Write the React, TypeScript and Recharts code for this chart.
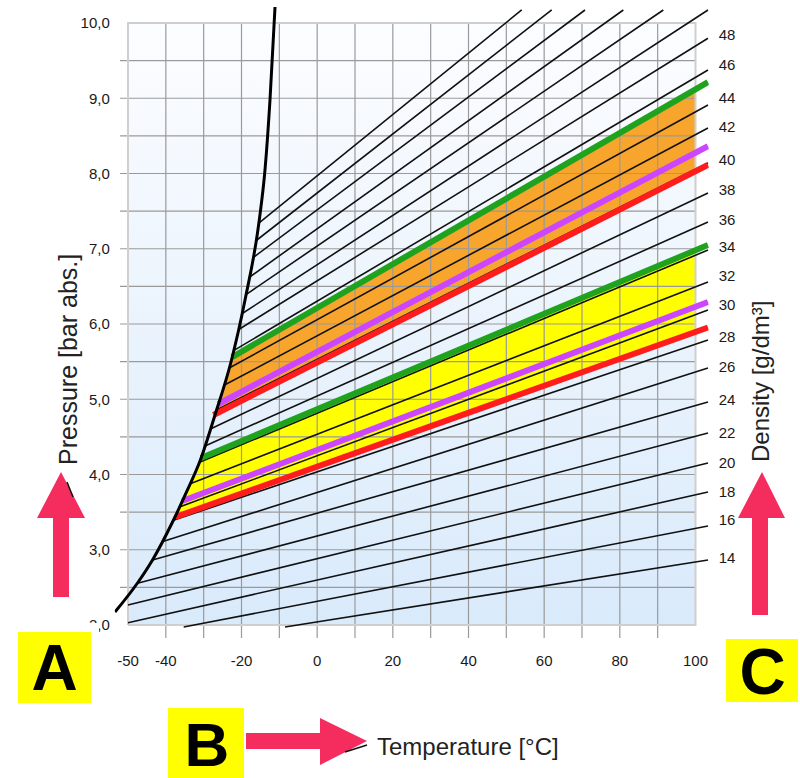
import React from 'react';
import { ComposedChart, Line, Area, XAxis, YAxis } from 'recharts';

// liquefaction boundary, temperature (°C) / pressure (bar abs.)
const satT = [-53.44, -47.49, -43.52, -37.97, -34.41, -30.97, -27.0, -22.78, -19.07, -15.37, -13.79, -12.47, -11.14];
const satP = [2.173, 2.558, 2.864, 3.395, 3.781, 4.179, 4.791, 5.495, 6.319, 7.355, 8.047, 8.977, 10.213];

// isochores (g/dm³): start and end of each line
const densities = [14, 16, 18, 20, 22, 24, 26, 28, 30, 32, 34, 36, 38, 40, 42, 44, 46, 48, 50, 52, 54, 56, 58, 60];
const isoStartT = [-8.5, -35.28, -50, -50, -47.49, -43.52, -41.0, -37.79, -36.39, -33.56, -31.1, -29.65, -28.22, -26.61, -24.63, -23.25, -22.09, -20.85, -19.89, -18.81, -18.02, -17.09, -16.27, -15.43];
const isoStartP = [1.973, 1.973, 2.031, 2.266, 2.554, 2.864, 3.105, 3.395, 3.568, 3.876, 4.162, 4.38, 4.605, 4.857, 5.185, 5.415, 5.647, 5.923, 6.136, 6.391, 6.618, 6.877, 7.103, 7.342];
const isoEndT = [103.3, 103.3, 103.3, 103.3, 103.3, 103.3, 103.3, 103.3, 103.3, 103.3, 103.3, 103.3, 103.3, 103.3, 103.3, 103.3, 103.3, 103.3, 103.3, 91.49, 80.92, 70.79, 61.99, 54.06];
const isoEndP = [2.864, 3.316, 3.767, 4.153, 4.551, 4.963, 5.415, 5.787, 6.186, 6.558, 6.983, 7.355, 7.741, 8.14, 8.605, 8.91, 9.375, 9.797, 10.173, 10.173, 10.173, 10.173, 10.173, 10.173];

// highlighted limit lines (lower band, upper band)
const bandStartT = [-37.44, -35.65, -30.7, -27.4, -26.13, -22.48];
const bandStartP = [3.435, 3.648, 4.219, 4.791, 4.937, 5.561];
const bandEndT = [103.3, 103.3, 103.3, 103.3, 103.3, 103.3];
const bandEndP = [5.954, 6.292, 7.05, 8.113, 8.365, 9.216];
const bandColors = ['#ff1c1c', '#cc46ff', '#1fa31f', '#ff1c1c', '#cc46ff', '#1fa31f'];

// filled zones
const orangeT = [-27.0, -24.89, -22.48, 100];
const orangeLow = [4.801, 4.855, 4.916, 8.029];
const orangeHigh = [4.801, 5.143, 5.561, 9.12];
const yellowT = [-37.44, -34.41, -30.7, 100];
const yellowLow = [3.435, 3.49, 3.556, 5.895];
const yellowHigh = [3.435, 3.781, 4.219, 6.98];

// axes
const xLabels = [-50, -40, -20, 0, 20, 40, 60, 80, 100];
const yLabels = [2, 3, 4, 5, 6, 7, 8, 9, 10];
const gridT = [-40, -30, -20, -10, 0, 10, 20, 30, 40, 50, 60, 70, 80, 90];
const gridP = [2.5, 3, 3.5, 4, 4.5, 5, 5.5, 6, 6.5, 7, 7.5, 8, 8.5, 9, 9.5];
const densityLabels = [48, 46, 44, 42, 40, 38, 36, 34, 32, 30, 28, 26, 24, 22, 20, 18, 16, 14];
const densityLabelP = [9.841, 9.442, 9.003, 8.618, 8.179, 7.781, 7.382, 7.023, 6.638, 6.252, 5.827, 5.429, 4.99, 4.551, 4.153, 3.767, 3.395, 2.89];

const pts = (ts: number[], ps: number[]) => ts.map((t, i) => ({ t, p: ps[i] }));
const ranged = (ts: number[], lo: number[], hi: number[]) => ts.map((t, i) => ({ t, r: [lo[i], hi[i]] }));

const ARROW = '#f52d5e';
const tickStyle = { fill: '#1a1a1a', fontSize: 15 };

export default function App() {
  const satData = pts(satT, satP);

  return (
    <div
      style={{
        position: 'absolute',
        left: 0,
        top: 0,
        width: 800,
        height: 778,
        background: '#fff',
        fontFamily: '"Liberation Sans", Arial, sans-serif',
      }}
    >
      <ComposedChart width={800} height={778} margin={{ top: 4.19, right: 51.26, bottom: 107.95, left: 54.76 }}>
        <defs>
          <linearGradient id="plotBg" x1="0" y1="0" x2="0" y2="1">
            <stop offset="0%" stopColor="#fcfdff" />
            <stop offset="100%" stopColor="#d9eafb" />
          </linearGradient>
        </defs>
        <XAxis
          dataKey="t"
          type="number"
          domain={[-53.5, 103.5]}
          allowDataOverflow
          ticks={xLabels}
          interval={0}
          axisLine={false}
          tickLine={false}
          tickSize={5}
          tickMargin={10}
          height={30}
          tick={tickStyle}
        />
        <YAxis
          type="number"
          domain={[1.8, 10.25]}
          allowDataOverflow
          ticks={yLabels}
          interval={0}
          axisLine={false}
          tickLine={false}
          tickSize={4}
          tickMargin={1}
          width={60}
          tick={tickStyle}
          tickFormatter={(v: number) => v.toFixed(1).replace('.', ',')}
        />
        <YAxis
          yAxisId="dens"
          orientation="right"
          type="number"
          domain={[1.8, 10.25]}
          allowDataOverflow
          ticks={densityLabelP}
          interval={0}
          axisLine={false}
          tickLine={false}
          tickSize={4}
          tickMargin={6}
          width={40}
          tick={tickStyle}
          tickFormatter={(v: number) => String(densityLabels[densityLabelP.indexOf(v)])}
        />

        <Area
          data={ranged([-50, 100], [2, 2], [10, 10])}
          dataKey="r"
          type="linear"
          stroke="none"
          fill="url(#plotBg)"
          fillOpacity={1}
          isAnimationActive={false}
          activeDot={false}
        />
        <Area
          data={ranged(orangeT, orangeLow, orangeHigh)}
          dataKey="r"
          type="linear"
          stroke="none"
          fill="#f8a52e"
          fillOpacity={1}
          isAnimationActive={false}
          activeDot={false}
        />
        <Area
          data={ranged(yellowT, yellowLow, yellowHigh)}
          dataKey="r"
          type="linear"
          stroke="none"
          fill="#ffff00"
          fillOpacity={1}
          isAnimationActive={false}
          activeDot={false}
        />

        {gridT.map((t) => (
          <Line
            key={'gv' + t}
            data={pts([t, t], [1.827, 10])}
            dataKey="p"
            type="linear"
            stroke="#9a9a9a"
            strokeWidth={1.2}
            dot={false}
            activeDot={false}
            isAnimationActive={false}
          />
        ))}
        {gridP.map((p) => (
          <Line
            key={'gh' + p}
            data={pts([-52.1, 100], [p, p])}
            dataKey="p"
            type="linear"
            stroke="#9a9a9a"
            strokeWidth={1.2}
            dot={false}
            activeDot={false}
            isAnimationActive={false}
          />
        ))}
        <Line
          data={pts([-50, 100, 100, -50, -50], [2, 2, 10, 10, 2])}
          dataKey="p"
          type="linear"
          stroke="#cfcfcf"
          strokeWidth={2}
          dot={false}
          activeDot={false}
          isAnimationActive={false}
        />

        {densities.map((d, i) => (
          <Line
            key={'iso' + d}
            data={pts([isoStartT[i], isoEndT[i]], [isoStartP[i], isoEndP[i]])}
            dataKey="p"
            type="linear"
            stroke="#111"
            strokeWidth={1.6}
            dot={false}
            activeDot={false}
            isAnimationActive={false}
          />
        ))}

        {bandStartT.map((t, i) => (
          <Line
            key={'band' + i}
            data={pts([t, bandEndT[i]], [bandStartP[i], bandEndP[i]])}
            dataKey="p"
            type="linear"
            stroke={bandColors[i]}
            strokeWidth={6}
            dot={false}
            activeDot={false}
            isAnimationActive={false}
          />
        ))}

        <Line
          data={satData}
          dataKey="p"
          type="monotone"
          stroke="#000"
          strokeWidth={3}
          dot={false}
          activeDot={false}
          isAnimationActive={false}
        />
      </ComposedChart>

      <svg width={800} height={778} style={{ position: 'absolute', left: 0, top: 0, pointerEvents: 'none' }}>
        <rect x={84} y={623} width={15} height={11} fill="#fff" />

        <text transform="translate(77,465) rotate(-90)" fontSize={25} fill="#222">
          Pressure [bar abs.]
        </text>
        <text transform="translate(769,462) rotate(-90)" fontSize={24} fill="#222">
          Density [g/dm³]
        </text>
        <text x={377} y={755} fontSize={24} fill="#222">
          Temperature [°C]
        </text>

        <polygon points="61,472 85,518 69,518 69,597 53,597 53,518 37,518" fill={ARROW} />
        <polygon points="762,472 785,518 768,518 768,615 752,615 752,518 738,518" fill={ARROW} />
        <polygon points="367,741 320,718 320,733 246,733 246,749 320,749 320,765" fill={ARROW} />
        <line x1={67} y1={482} x2={73} y2={497} stroke="#111" strokeWidth={1.5} />
        <line x1={345} y1={752} x2={367} y2={745} stroke="#111" strokeWidth={1.5} />

        <rect x={18} y={632} width={73} height={71} fill="#ffff00" />
        <text x={54.5} y={668} fontSize={64} fontWeight="bold" textAnchor="middle" dominantBaseline="central" fill="#000">
          A
        </text>
        <rect x={168} y={708} width={76} height={70} fill="#ffff00" />
        <text x={207} y={744} fontSize={62} fontWeight="bold" textAnchor="middle" dominantBaseline="central" fill="#000">
          B
        </text>
        <rect x={726} y={639} width={72} height={63} fill="#ffff00" />
        <text x={762.5} y={672} fontSize={64} fontWeight="bold" textAnchor="middle" dominantBaseline="central" fill="#000">
          C
        </text>
      </svg>
    </div>
  );
}
